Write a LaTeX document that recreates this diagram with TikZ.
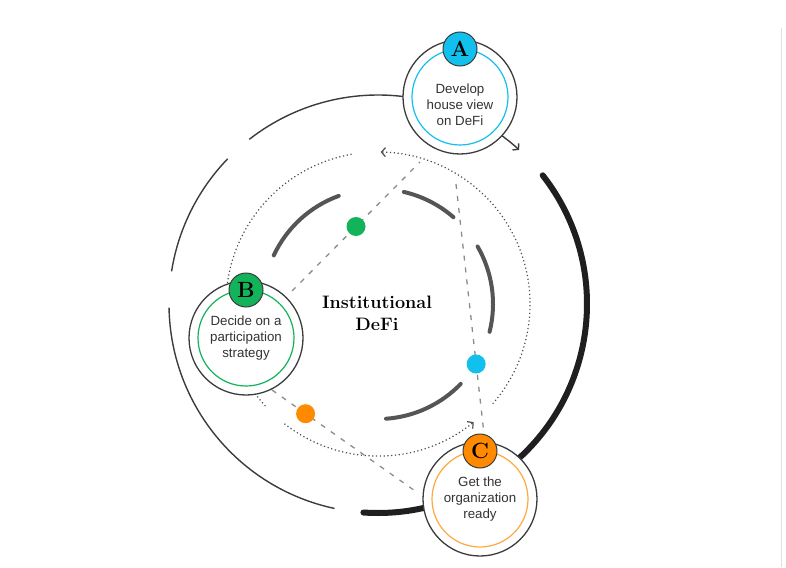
\documentclass[tikz,border=0pt]{standalone}
\usepackage{fontspec}
\setsansfont{Liberation Sans}
\usetikzlibrary{arrows.meta}
\definecolor{defiblue}{HTML}{12C0EE}
\definecolor{defigreen}{HTML}{12B35A}
\definecolor{defiorange}{HTML}{FF8A00}
\definecolor{ringgray}{HTML}{3C3C3C}
\definecolor{arcgray}{HTML}{555555}

\begin{document}
\begin{tikzpicture}[x=1pt, y=1pt,
  ring node/.style={draw=ringgray, line width=1.3pt, circle, fill=white, minimum size=114pt, inner sep=0pt,
    path picture={\draw[#1, line width=1.2pt] (path picture bounding box.center) circle[radius=48];}},
  text node/.style={align=center, text=black!80, font=\sffamily\fontsize{13.3}{16}\selectfont},
  badge node/.style={draw=ringgray, line width=1pt, circle, fill=#1, minimum size=34pt, inner sep=0pt, font=\bfseries\fontsize{22}{22}\selectfont},
  dot node/.style={circle, fill=#1, minimum size=19pt, inner sep=0pt},
  dash line/.style={draw=black!45, line width=1.3pt, dash pattern=on 5pt off 7pt},
  dot line/.style={draw=black!70, line width=1.2pt, dash pattern=on 1.2pt off 2.6pt, -{Straight Barb[length=4pt,width=9pt]}},
  outer arc/.style={draw=ringgray, line width=1.4pt},
  thick arc/.style={draw=black!88, line width=6pt, line cap=round},
  inner arc/.style={draw=arcgray, line width=4pt, line cap=round}]
\useasboundingbox (0,0) rectangle (786,-567);
\draw[black!12] (781,-28) -- (781,-567);
\coordinate (c) at (378,-304);
\draw[outer arc] (c) ++(128:209) arc[start angle=128, end angle=80, radius=209];
\draw[outer arc] (c) ++(136:209) arc[start angle=136, end angle=171, radius=209];
\draw[outer arc] (c) ++(181:209) arc[start angle=181, end angle=258, radius=209];
\draw[thick arc] (c) ++(266:209) arc[start angle=266, end angle=300, radius=209];
\draw[thick arc] (c) ++(38:209) arc[start angle=38, end angle=-50, radius=209];
\draw[outer arc, -{Straight Barb[length=4pt,width=9pt]}] (c) ++(55:209) arc[start angle=55, end angle=47.5, radius=209];
\draw[dot line] (c) ++(-41:152) arc[start angle=-41, end angle=89, radius=152];
\draw[dot line, -] (c) ++(100:152) arc[start angle=100, end angle=223, radius=152];
\draw[dot line] (c) ++(232:152) arc[start angle=232, end angle=309, radius=152];
\draw[inner arc] (c) ++(110:115) arc[start angle=110, end angle=155, radius=115];
\draw[inner arc] (c) ++(49:115) arc[start angle=49, end angle=77, radius=115];
\draw[inner arc] (c) ++(-14:115) arc[start angle=-14, end angle=30, radius=115];
\draw[inner arc] (c) ++(-86:115) arc[start angle=-86, end angle=-44, radius=115];
\coordinate (b1) at (292,-291);
\coordinate (a1) at (420,-162);
\coordinate (a2) at (456,-184);
\coordinate (c1) at (484,-434);
\coordinate (b2) at (272,-390);
\coordinate (c2) at (418,-493);
\path[dash line]
(b1) edge node[dot node=defigreen, pos=.5] {} (a1)
(a2) edge node[dot node=defiblue, pos=.72] {} (c1)
(b2) edge node[dot node=defiorange, pos=.23] {} (c2);
\node[ring node=defiblue] (A) at (460,-97) {};
\node[ring node=defigreen] (B) at (246,-338) {};
\node[ring node=defiorange!75] (C) at (480,-499) {};
\node[text node] (A text) at ([yshift=-8pt]A) {Develop\\house view\\on DeFi};
\node[text node] (B text) at (B) {Decide on a\\participation\\strategy};
\node[text node] (C text) at (C) {Get the\\organization\\ready};
\node[badge node=defiblue, above of=A, node distance=48pt] (A badge) {A};
\node[badge node=defigreen, above of=B, node distance=48pt] (B badge) {B};
\node[badge node=defiorange, above of=C, node distance=48pt] (C badge) {C};
\node[align=center, font=\bfseries\fontsize{18}{22}\selectfont] (title) at (377,-313) {Institutional\\DeFi};
\end{tikzpicture}
\end{document}
